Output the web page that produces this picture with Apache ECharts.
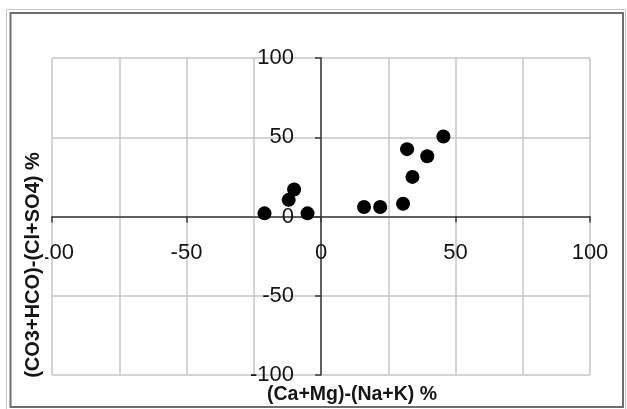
<!DOCTYPE html>
<html>
<head>
<meta charset="utf-8">
<style>html,body{margin:0;padding:0;background:#fff;}#chart{width:627px;height:409px;}</style>
<script src="https://cdn.jsdelivr.net/npm/echarts@6/dist/echarts.min.js"></script>
</head>
<body>
<div id="chart"></div>
<script>
var xValues = [-21, -12, -10, -5, 16, 22, 30.5, 34, 32, 39.5, 45.5];
var yValues = [2, 10.5, 17, 2, 6, 6, 8, 25, 42.5, 38, 50.5];
var xTitle = '(Ca+Mg)-(Na+K) %';
var yTitle = '(CO3+HCO)-(Cl+SO4) %';

var points = xValues.map(function (x, i) { return [x, yValues[i]]; });
var labelFont = { fontFamily: 'Liberation Sans, Arial, sans-serif', fontSize: 22, color: '#151515' };

var G = { left: 52, right: 37, top: 58, bottom: 34 };
var W = 627, H = 409;
var plotW = W - G.left - G.right, plotH = H - G.top - G.bottom;

var chart = echarts.init(document.getElementById('chart'), null, { renderer: 'canvas' });
chart.setOption({
  animation: false,
  backgroundColor: '#fff',
  grid: { left: G.left, right: G.right, top: G.top, bottom: G.bottom, containLabel: false, outerBoundsMode: 'none' },
  xAxis: {
    type: 'value', min: -100, max: 100, interval: 50, position: 'bottom',
    offset: -plotH / 2,
    axisLine: { onZero: false, lineStyle: { color: '#3a3a3a', width: 1.5 } },
    axisTick: { show: true, length: 6, lineStyle: { color: '#3a3a3a', width: 1.5 } },
    minorTick: { show: false, splitNumber: 2 },
    splitLine: { show: true, lineStyle: { color: '#c6c6c6', width: 1.5 } },
    minorSplitLine: { show: true, lineStyle: { color: '#c6c6c6', width: 1.5 } },
    axisLabel: Object.assign({ margin: 25 }, labelFont)
  },
  yAxis: {
    type: 'value', min: -100, max: 100, interval: 50, position: 'left',
    offset: -plotW / 2,
    axisLine: { onZero: false, lineStyle: { color: '#3a3a3a', width: 1.5 } },
    axisTick: { show: true, length: 6, lineStyle: { color: '#3a3a3a', width: 1.5 } },
    splitLine: { show: true, lineStyle: { color: '#c6c6c6', width: 1.5 } },
    axisLabel: Object.assign({ margin: 27 }, labelFont)
  },
  series: [{
    type: 'scatter',
    data: points,
    symbol: 'circle',
    symbolSize: 14,
    itemStyle: { color: '#000', opacity: 1 },
    z: 5
  }],
  graphic: [
    { type: 'rect', z: 100, silent: true, shape: { x: 6.5, y: 9.5, width: 619, height: 410 }, style: { fill: null, stroke: '#c8c8c8', lineWidth: 1 } },
    { type: 'rect', z: 100, silent: true, shape: { x: 10.5, y: 13, width: 612.5, height: 394 }, style: { fill: null, stroke: '#6e6e6e', lineWidth: 2 } },
    { type: 'rect', z: 100, silent: true, shape: { x: 24, y: 148, width: 21, height: 234 }, style: { fill: '#fff' } },
    { type: 'text', z: 101, silent: true, x: 33, y: 265, rotation: Math.PI / 2,
      style: { text: yTitle, fontFamily: 'Liberation Sans, Arial, sans-serif', fontWeight: 'bold', fontSize: 20, fill: '#151515', align: 'center', verticalAlign: 'middle' } },
    { type: 'text', z: 101, silent: true, x: 352, y: 395,
      style: { text: xTitle, fontFamily: 'Liberation Sans, Arial, sans-serif', fontWeight: 'bold', fontSize: 19.5, fill: '#151515', align: 'center', verticalAlign: 'middle' } }
  ]
});
</script>
</body>
</html>
